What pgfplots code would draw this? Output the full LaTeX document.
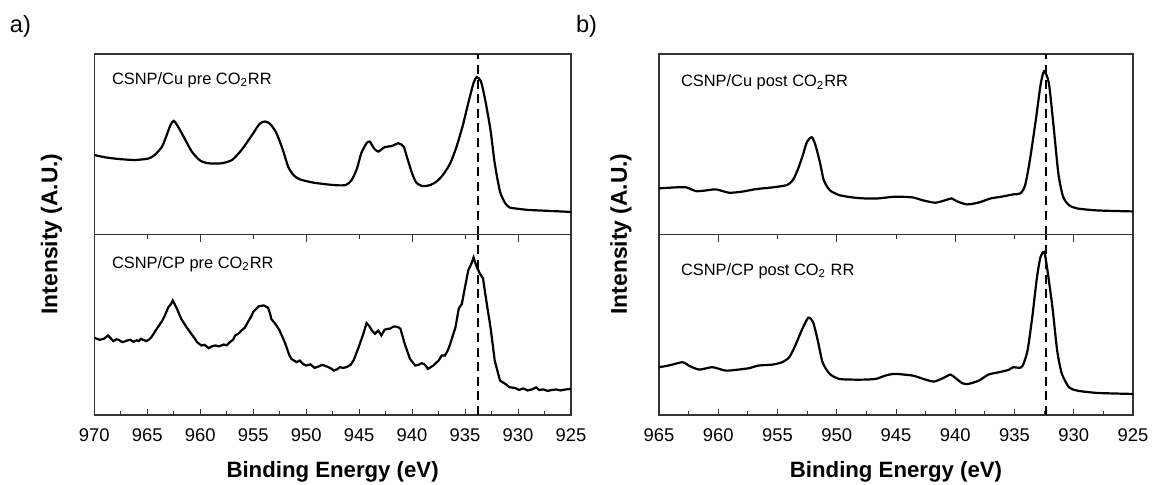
\documentclass[border=0pt]{standalone}
\usepackage{fontspec}
\setmainfont{Liberation Sans}
\usepackage{pgfplots}
\pgfplotsset{compat=1.18}

\tikzset{lbl/.style={anchor=west, inner sep=0pt, font=\fontsize{8.2}{9}\selectfont}}
\pgfplotsset{
  xpsbase/.style={
    scale only axis, height=90.25pt,
    x dir=reverse, ymin=0, ymax=180,
    ytick=\empty,
    axis line style={black!80, line width=0.6pt},
    tick style={black!80, line width=0.5pt},
    tick align=inside,
    clip=true,
  },
  curve/.style={black, line width=1.1pt},
  vdash/.style={black, line width=1pt, dash pattern=on 4.5pt off 2.8pt},
  bottomaxis/.style={
    xtick pos=bottom,
    major tick length=3pt, minor tick length=1.8pt,
    /pgf/number format/assume math mode=true,
    ticklabel style={font=\fontsize{9.2}{10}\selectfont, yshift=-3.5pt},
  },
  topticks/.style={
    xtick pos=top, xticklabels=\empty,
    major tick length=3.5pt, minor tick length=2pt,
    axis line style={draw=none},
  },
}

\begin{document}
\begin{tikzpicture}
\path[use as bounding box] (0,0) rectangle (576pt,242pt);

% ---------------- panel a) top ----------------
\begin{axis}[xpsbase, width=238.35pt, xmin=925, xmax=970, xtick=\empty,
  at={(47.15pt,124.75pt)}, anchor=south west]
\addplot[curve, smooth, tension=0.4] coordinates {
(970,79.3)(969.0,77)(967.7,75.3)(966.2,74.3)(964.9,75.7)(964.3,79.3)(963.6,87.7)
(963.1,101)(962.8,109.3)(962.5,113.3)(962.1,107.7)(961.4,94.3)(960.8,82.7)(960.0,73.7)
(959.2,71)(958.0,71)(957.0,74.3)(956.1,84.3)(955.1,99.3)(954.4,110.3)(953.9,112.7)
(953.4,110.3)(952.8,101)(952.2,84.3)(951.7,67.7)(951.2,59.3)(950.6,55)(949.3,51.7)
(947.4,49.3)(946.3,49.3)(945.7,54.3)(945.2,66)(944.8,81)(944.3,91)(944.0,92.7)
(943.6,86)(943.2,82.7)(942.6,87)(941.9,88.3)(941.3,91)(940.8,87.7)(940.5,77.7)
(940.0,61)(939.6,51.7)(939.0,48.3)(938.3,49.3)(937.7,52.7)(937.1,59.3)(936.4,71)
(935.8,87.7)(935.2,109.3)(934.7,131)(934.2,151)(933.9,157)(933.5,152.7)(933.1,134.3)
(932.6,104.3)(932.2,71)(931.7,42.7)(931.2,31)(930.8,27)(930.3,26)(929,24.5)
(927,23.5)(925,22.5)};
\addplot[vdash] coordinates {(933.75,0)(933.75,180)};
\node[lbl] at (rel axis cs:0.0365,0.856) {CSNP/Cu pre CO\textsubscript{2}RR};
\end{axis}

% ---------------- panel a) bottom ----------------
\begin{axis}[xpsbase, bottomaxis, width=238.35pt, xmin=925, xmax=970,
  xtick={925,930,...,970}, minor xtick={927.5,932.5,...,967.5},
  at={(47.15pt,34.5pt)}, anchor=south west]
\addplot[curve] coordinates {
(970,77)(969.5,75)(969.1,76)(968.7,79.3)(968.4,76)(968.2,73.7)(967.9,75.5)(967.7,75)
(967.5,73.5)(967.3,72.7)(967.0,74)(966.6,75)(966.3,73)(966.0,74.5)(965.8,73.7)
(965.6,76)(965.4,75)(965.1,73.7)(964.8,75.5)(964.6,77.7)(964.1,86)(963.6,93.7)
(963.3,100)(963.2,102.7)(963.0,107.7)(962.8,110)(962.6,114.3)(962.2,106)(961.8,96)
(961.5,91)(961.3,87.7)(960.8,80.3)(960.5,76)(960.3,72.7)(959.9,69.3)(959.6,70)
(959.2,66.7)(958.9,68.5)(958.6,69.3)(958.2,68.5)(957.8,70.3)(957.5,69.5)(957.2,72.7)
(956.9,75)(956.7,79.3)(956.4,81)(956.1,84.3)(955.8,87)(955.5,92.7)(955.2,98)
(955.0,102.7)(954.7,106)(954.5,108.3)(954.0,109.3)(953.6,107)(953.4,101)(953.3,96)
(953.0,92)(952.8,89.3)(952.5,84)(952.3,79.3)(952.0,72)(951.8,66)(951.6,60)(951.4,56)
(951.1,54)(950.9,52.7)(950.6,54.3)(950.3,51)(950.0,49.3)(949.6,50.5)(949.2,47)
(948.8,48.5)(948.5,50)(948.2,49)(947.9,47.7)(947.6,46)(947.4,44.3)(947.1,45.5)
(946.8,47.7)(946.5,47)(946.2,47.7)(945.8,50)(945.5,55)(945.1,66)(944.6,81)(944.3,91.7)
(944.0,88)(943.8,84.3)(943.5,81)(943.2,84.3)(942.9,79.3)(942.6,85)(942.3,86)(942.1,86)
(941.8,88)(941.6,88.3)(941.3,87.5)(941.1,86)(940.7,71)(940.2,56)(939.7,49.3)(939.4,50)
(939.1,51.7)(938.8,50.3)(938.5,46)(938.2,48)(938.0,49.3)(937.5,54.3)(937.2,59.3)
(936.9,59.3)(936.6,65)(936.4,71)(935.9,87.7)(935.6,106)(935.3,111)(935.0,127.7)
(934.7,144.3)(934.4,151)(934.2,157)(933.9,147.7)(933.6,141)(933.3,136)(933.0,114.3)
(932.6,87.7)(932.2,54.3)(931.7,34.3)(931.2,31)(930.8,27.7)(930.3,27)(929.9,25)
(929.5,26.5)(929.1,24.5)(928.7,25.5)(928.3,27.5)(928.0,25)(927.6,25.5)(927.2,24)
(926.8,25)(926.4,25.5)(926.0,24.5)(925.5,25.5)(925.0,26)};
\addplot[vdash] coordinates {(933.75,0)(933.75,180)};
\node[lbl] at (rel axis cs:0.0365,0.837) {CSNP/CP pre CO\textsubscript{2}RR};
\end{axis}
\begin{axis}[xpsbase, topticks, width=238.35pt, xmin=925, xmax=970,
  xtick={930,940,...,970}, minor xtick={935,945,...,965},
  at={(47.15pt,34.5pt)}, anchor=south west]
\end{axis}

% ---------------- panel b) top ----------------
\begin{axis}[xpsbase, width=237pt, xmin=925, xmax=965, xtick=\empty,
  at={(329.5pt,124.75pt)}, anchor=south west]
\addplot[curve, smooth, tension=0.4] coordinates {
(965,46)(963.6,47)(962.7,47)(961.9,43.3)(961.2,43.7)(960.2,45)(959.1,41.7)(958.0,42.7)
(956.8,45.3)(955.4,47)(954.2,49.3)(953.7,54.3)(953.3,64.3)(952.9,77.7)(952.5,92.7)
(952.1,97)(951.8,89.3)(951.4,71)(951.1,54.3)(950.6,44.3)(949.8,39.3)(948.7,37)
(947.7,36)(946.5,36)(945.1,37.7)(943.6,37)(942.8,34.3)(941.7,31.7)(940.8,34.3)
(940.3,36)(939.9,33.3)(939.0,30)(938.0,32)(937.0,36)(936.1,37.7)(935.1,40)(934.5,41)
(934.1,49.3)(933.7,74.3)(933.2,114.3)(932.8,149.3)(932.5,162.7)(932.1,151)(931.7,107.7)
(931.3,61)(930.9,37.7)(930.4,29.3)(929.7,26)(928,24)(925,23)};
\addplot[vdash] coordinates {(932.3,0)(932.3,180)};
\node[lbl] at (rel axis cs:0.0458,0.843) {CSNP/Cu post CO\textsubscript{2}RR};
\end{axis}

% ---------------- panel b) bottom ----------------
\begin{axis}[xpsbase, bottomaxis, width=237pt, xmin=925, xmax=965,
  xtick={925,930,...,965}, minor xtick={927.5,932.5,...,962.5},
  at={(329.5pt,34.5pt)}, anchor=south west]
\addplot[curve, smooth, tension=0.4] coordinates {
(965,47.7)(964.2,49.3)(963.0,52.7)(962.5,49.3)(961.6,45.3)(960.5,47.7)(959.4,44.3)
(958.5,45)(957.4,46.7)(956.6,49.3)(955.4,50.3)(954.6,52.7)(954.0,57.7)(953.5,69.3)
(952.9,86)(952.4,97)(952.0,92.7)(951.6,74.3)(951.2,52.7)(950.6,41)(949.8,36)
(948.7,35.3)(947.7,35.3)(946.7,36)(945.9,39.3)(945.1,41)(943.6,39.3)(942.7,36)
(941.8,33.3)(941.0,37)(940.4,40.3)(940.0,37)(939.4,31.7)(938.9,31)(938.0,34.3)
(937.2,40.3)(936.3,42.7)(935.5,45)(935.1,47.7)(934.6,47)(934.3,49.3)(933.9,64.3)
(933.5,97.7)(933.1,137.7)(932.8,157.7)(932.5,162.7)(932.3,151)(931.8,107.7)(931.4,64.3)
(931.0,41)(930.4,27.7)(929.7,24.3)(928,22)(925,21)};
\addplot[vdash] coordinates {(932.3,0)(932.3,180)};
\node[lbl] at (rel axis cs:0.0458,0.797) {CSNP/CP post CO\textsubscript{2} RR};
\end{axis}
\begin{axis}[xpsbase, topticks, width=237pt, xmin=925, xmax=965,
  xtick={930,940,...,960}, minor xtick={935,945,...,955},
  at={(329.5pt,34.5pt)}, anchor=south west]
\end{axis}

% ---------------- labels ----------------
\node[font=\fontsize{11.8}{13}\selectfont] at (10.2pt,229pt) {a)};
\node[font=\fontsize{11.8}{13}\selectfont] at (293.3pt,229pt) {b)};
\node[rotate=90, font=\bfseries\fontsize{11.4}{13}\selectfont] at (25.8pt,125pt) {Intensity (A.U.)};
\node[rotate=90, font=\bfseries\fontsize{11.4}{13}\selectfont] at (310.5pt,125pt) {Intensity (A.U.)};
\node[anchor=base, inner sep=0pt, font=\bfseries\fontsize{11.1}{13}\selectfont] at (166.3pt,3.2pt) {Binding Energy (eV)};
\node[anchor=base, inner sep=0pt, font=\bfseries\fontsize{11.1}{13}\selectfont] at (448pt,3.2pt) {Binding Energy (eV)};
\end{tikzpicture}
\end{document}
